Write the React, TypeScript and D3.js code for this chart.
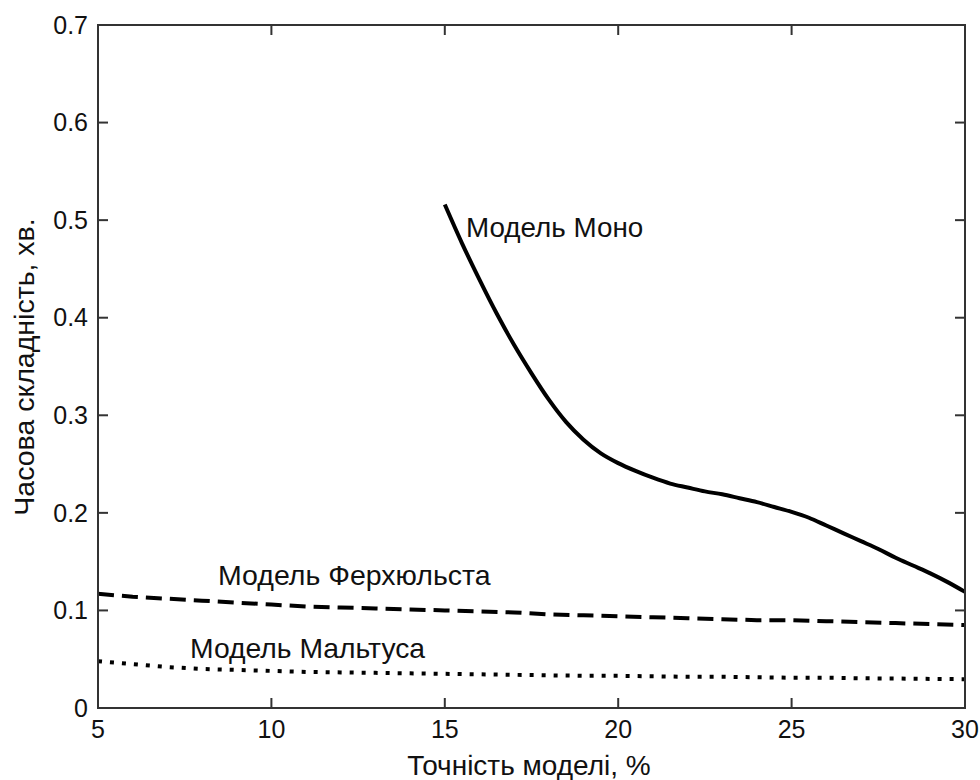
import React from "react";
import * as d3 from "d3";

const monoX = [15, 15.5, 16, 16.5, 17, 17.5, 18, 18.5, 19, 19.5, 20, 20.5, 21, 21.5, 22, 22.5, 23, 23.5, 24, 24.5, 25, 25.5, 26, 26.5, 27, 27.5, 28, 28.5, 29, 29.5, 30];
const monoY = [0.516, 0.476, 0.439, 0.404, 0.372, 0.343, 0.316, 0.293, 0.275, 0.261, 0.251, 0.243, 0.236, 0.23, 0.226, 0.222, 0.219, 0.215, 0.211, 0.206, 0.201, 0.195, 0.187, 0.179, 0.171, 0.163, 0.154, 0.146, 0.138, 0.129, 0.119];

const otherX = [5, 6, 7, 8, 9, 10, 11, 12, 13, 14, 15, 16, 17, 18, 19, 20, 21, 22, 23, 24, 25, 26, 27, 28, 29, 30];
const verhulstY = [0.117, 0.114, 0.112, 0.11, 0.108, 0.106, 0.104, 0.103, 0.102, 0.101, 0.1, 0.099, 0.098, 0.096, 0.095, 0.094, 0.093, 0.092, 0.091, 0.09, 0.09, 0.089, 0.088, 0.087, 0.086, 0.085];
const malthusY = [0.048, 0.045, 0.042, 0.04, 0.039, 0.038, 0.037, 0.0365, 0.036, 0.0355, 0.035, 0.0345, 0.034, 0.0335, 0.033, 0.033, 0.0325, 0.032, 0.032, 0.0315, 0.031, 0.031, 0.0305, 0.0302, 0.0298, 0.0295];

const xTicks = [5, 10, 15, 20, 25, 30];
const yTicks = [0, 0.1, 0.2, 0.3, 0.4, 0.5, 0.6, 0.7];

const labelMono = "Модель Моно";
const labelVerhulst = "Модель Ферхюльста";
const labelMalthus = "Модель Мальтуса";
const xTitle = "Точність моделі, %";
const yTitle = "Часова складність, хв.";

export default function App() {
  const L = 98, R = 965, T = 25, B = 708;
  const x = d3.scaleLinear().domain([5, 30]).range([L, R]);
  const y = d3.scaleLinear().domain([0, 0.7]).range([B, T]);
  const line = d3.line<[number, number]>().x((d) => x(d[0])).y((d) => y(d[1]));
  const smooth = d3.line<[number, number]>().x((d) => x(d[0])).y((d) => y(d[1])).curve(d3.curveMonotoneX);
  const mono = smooth(monoX.map((v, i) => [v, monoY[i]]));
  const verh = line(otherX.map((v, i) => [v, verhulstY[i]]));
  const malt = line(otherX.map((v, i) => [v, malthusY[i]]));
  const font = "'Liberation Sans', Arial, sans-serif";
  const tickLen = 10;
  const axisColor = "#333";
  return (
    <svg width={980} height={780} style={{ position: "absolute", left: 0, top: 0, background: "#fff" }} fontFamily={font}>
      <rect x={0} y={0} width={980} height={780} fill="#fff" />
      <path d={verh ?? ""} fill="none" stroke="#000" strokeWidth={4} strokeDasharray="16 8" />
      <path d={malt ?? ""} fill="none" stroke="#000" strokeWidth={4} strokeDasharray="4 8" />
      <path d={mono ?? ""} fill="none" stroke="#000" strokeWidth={4} strokeLinejoin="round" />
      <rect x={L} y={T} width={R - L} height={B - T} fill="none" stroke={axisColor} strokeWidth={2} />
      {xTicks.map((t) => (
        <g key={"x" + t}>
          <line x1={x(t)} x2={x(t)} y1={B} y2={B - tickLen} stroke={axisColor} strokeWidth={2} />
          <line x1={x(t)} x2={x(t)} y1={T} y2={T + tickLen} stroke={axisColor} strokeWidth={2} />
          <text x={x(t)} y={738} textAnchor="middle" fontSize={25} fill="#111">{t}</text>
        </g>
      ))}
      {yTicks.map((t) => (
        <g key={"y" + t}>
          <line x1={L} x2={L + tickLen} y1={y(t)} y2={y(t)} stroke={axisColor} strokeWidth={2} />
          <line x1={R} x2={R - tickLen} y1={y(t)} y2={y(t)} stroke={axisColor} strokeWidth={2} />
          <text x={88} y={y(t)} dy="0.35em" textAnchor="end" fontSize={25} fill="#111">{t === 0 ? "0" : d3.format(".1f")(t)}</text>
        </g>
      ))}
      <text x={466} y={237} fontSize={27.8} fill="#111">{labelMono}</text>
      <text x={218} y={585} fontSize={28.5} fill="#111">{labelVerhulst}</text>
      <text x={190} y={658} fontSize={28.3} fill="#111">{labelMalthus}</text>
      <text x={529} y={775} textAnchor="middle" fontSize={28} fill="#111">{xTitle}</text>
      <text transform={`translate(34, ${367}) rotate(-90)`} textAnchor="middle" fontSize={28.5} fill="#111">{yTitle}</text>
    </svg>
  );
}
